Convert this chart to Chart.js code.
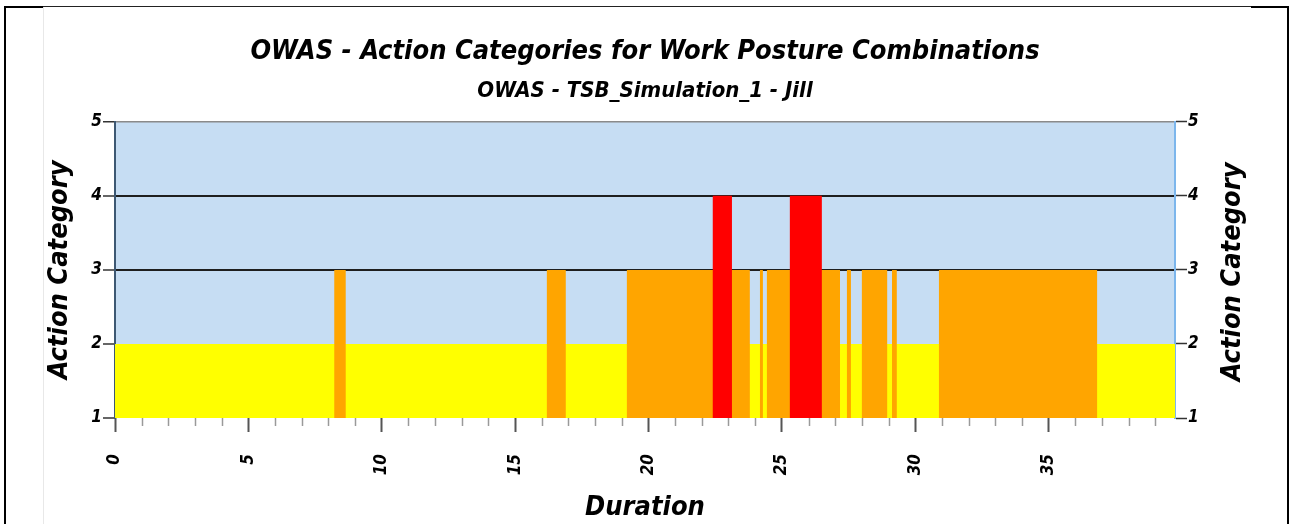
<!DOCTYPE html>
<html lang="en">
<head>
  <meta charset="UTF-8" />
  <title>OWAS - Action Categories</title>
  <script src="https://cdn.jsdelivr.net/npm/chart.js@4"></script>
  <style>
    body { margin: 0; background: #fff; }
    #wrap { position: relative; width: 1290px; height: 524px; overflow: hidden; }
    canvas { position: absolute; left: 0; top: 0; }
    .ln { position: absolute; background: #000; }
  </style>
</head>
<body>
  <div id="wrap">
    <canvas id="owas" width="1290" height="524"></canvas>
    <div class="ln" style="left:4px;top:6px;width:2px;height:520px"></div>
    <div class="ln" style="left:1287px;top:6px;width:2px;height:520px"></div>
    <div class="ln" style="left:4px;top:6px;width:39px;height:2px"></div>
    <div class="ln" style="left:43px;top:6px;width:1208px;height:1px;background:#222"></div>
    <div class="ln" style="left:1251px;top:6px;width:38px;height:2px"></div>
    <div class="ln" style="left:43px;top:7px;width:1px;height:520px;background:#e8e8e8"></div>
  </div>
  <script>
    // segment start times (s) and action category held until the next start
    const segStart = [0, 8.22, 8.65, 16.19, 16.9, 19.19, 22.41, 23.13, 23.8, 24.18, 24.29, 24.44,
      25.3, 26.5, 27.18, 27.44, 27.59, 28.0, 28.95, 29.13, 29.31, 30.89, 36.82];
    const segCategory = [2, 3, 2, 3, 2, 3, 4, 3, 2, 3, 2, 3, 4, 3, 2, 3, 2, 3, 2, 3, 2, 3, 2];
    const endTime = 39.74;

    const levels = [2, 3, 4];
    const levelColors = ['#ffff00', '#ffa500', '#ff0000'];
    const yTicks = [1, 2, 3, 4, 5];
    const xTicks = [0, 5, 10, 15, 20, 25, 30, 35];

    const font = 'DejaVu Sans Condensed, DejaVu Sans, sans-serif';

    // one filled layer per category level: each segment gives a flat top from its start to its end
    const layer = (lvl) => {
      const pts = [];
      segStart.forEach((t, i) => {
        const t2 = i + 1 < segStart.length ? segStart[i + 1] : endTime;
        const v = segCategory[i] >= lvl ? lvl : 1;
        pts.push({ x: t, y: v }, { x: t2, y: v });
      });
      return pts;
    };

    const datasets = levels.map((lvl, i) => ({
      label: 'Category ' + lvl,
      data: layer(lvl),
      borderWidth: 0,
      pointRadius: 0,
      tension: 0,
      backgroundColor: levelColors[i],
      borderColor: levelColors[i],
      fill: { value: 1 },
      order: 10 - lvl
    }));

    const bgPlugin = {
      id: 'bg',
      beforeDraw(chart) {
        const { ctx, chartArea: a } = chart;
        ctx.save();
        ctx.fillStyle = '#c6ddf3';
        ctx.fillRect(a.left, a.top, a.right - a.left, a.bottom - a.top);
        ctx.restore();
      },
      afterDraw(chart) {
        const { ctx, chartArea: a } = chart;
        const xs = chart.scales.x;
        ctx.save();
        // minor ticks every second
        ctx.strokeStyle = '#9a9a9a';
        ctx.lineWidth = 1.5;
        for (let t = 1; t < endTime; t++) {
          if (t % 5 === 0) continue;
          const px = Math.round(xs.getPixelForValue(t)) + 0.5;
          ctx.beginPath();
          ctx.moveTo(px, a.bottom);
          ctx.lineTo(px, a.bottom + 8);
          ctx.stroke();
        }
        // right axis title, reading bottom to top like the left one
        ctx.fillStyle = '#000';
        ctx.font = 'italic bold 27px ' + font;
        ctx.textAlign = 'center';
        ctx.textBaseline = 'middle';
        ctx.translate(1233, (a.top + a.bottom) / 2 + 2);
        ctx.rotate(-Math.PI / 2);
        ctx.fillText('Action Category', 0, 0);
        ctx.restore();
      }
    };

    const yCommon = {
      type: 'linear',
      min: 1,
      max: 5,
      afterBuildTicks: (s) => { s.ticks = yTicks.map(v => ({ value: v })); },
      ticks: {
        color: '#000',
        padding: 1,
        font: { family: font, size: 17, weight: 'bold', style: 'italic' }
      }
    };

    new Chart(document.getElementById('owas'), {
      type: 'line',
      data: { datasets },
      plugins: [bgPlugin],
      options: {
        responsive: false,
        animation: false,
        layout: { padding: { top: 0, right: 0, bottom: 0, left: 0 } },
        plugins: {
          legend: { display: false },
          tooltip: { enabled: false },
          title: {
            display: true,
            text: 'OWAS - Action Categories for Work Posture Combinations',
            color: '#000',
            font: { family: font, size: 27, weight: 'bold', style: 'italic' },
            padding: { top: 36, bottom: 4 }
          },
          subtitle: {
            display: true,
            text: 'OWAS - TSB_Simulation_1 - Jill',
            color: '#000',
            font: { family: font, size: 22, weight: 'bold', style: 'italic' },
            padding: { top: 6, bottom: 17 }
          }
        },
        scales: {
          x: {
            type: 'linear',
            min: 0,
            max: endTime,
            afterBuildTicks: (s) => { s.ticks = xTicks.map(v => ({ value: v })); },
            afterFit: (s) => { s.height = 106; },
            border: { display: false },
            grid: {
              drawOnChartArea: false,
              drawTicks: true,
              tickLength: 14,
              tickColor: '#555',
              tickWidth: 2
            },
            ticks: {
              color: '#000',
              padding: 22,
              minRotation: 90,
              maxRotation: 90,
              font: { family: font, size: 17, weight: 'bold', style: 'italic' }
            },
            title: {
              display: true,
              text: 'Duration',
              color: '#000',
              font: { family: font, size: 27, weight: 'bold', style: 'italic' },
              padding: { top: 0, bottom: 0 }
            }
          },
          y: {
            ...yCommon,
            position: 'left',
            afterFit: (s) => { s.width = 115; },
            border: { display: true, color: '#3d5873', width: 2 },
            grid: {
              color: (c) => c.tick.value === 5 ? '#8a8a8a' : (c.tick.value >= 3 ? '#1e1e1e' : 'rgba(0,0,0,0)'),
              lineWidth: (c) => c.tick.value === 5 ? 1.5 : 2,
              tickColor: '#333',
              tickLength: 12,
              tickWidth: 1.5
            },
            title: {
              display: true,
              text: 'Action Category',
              color: '#000',
              font: { family: font, size: 27, weight: 'bold', style: 'italic' },
              padding: { top: 44, bottom: 0 }
            }
          },
          y2: {
            ...yCommon,
            position: 'right',
            afterFit: (s) => { s.width = 115; },
            border: { display: true, color: '#7cb6ec', width: 2 },
            grid: {
              drawOnChartArea: false,
              tickColor: '#333',
              tickLength: 12,
              tickWidth: 1.5
            },
            title: { display: false }
          }
        }
      }
    });
  </script>
</body>
</html>
